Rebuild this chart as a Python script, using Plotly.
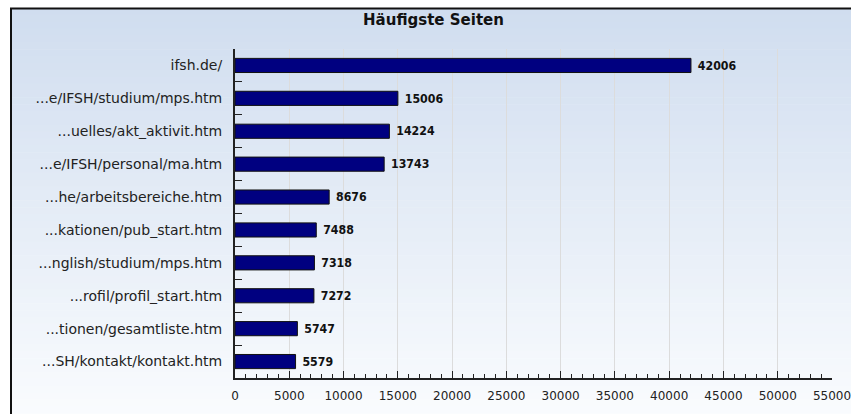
import plotly.graph_objects as go

# ---- data ----
pages = [
    "ifsh.de/",
    "...e/IFSH/studium/mps.htm",
    "...uelles/akt_aktivit.htm",
    "...e/IFSH/personal/ma.htm",
    "...he/arbeitsbereiche.htm",
    "...kationen/pub_start.htm",
    "...nglish/studium/mps.htm",
    "...rofil/profil_start.htm",
    "...tionen/gesamtliste.htm",
    "...SH/kontakt/kontakt.htm",
]
hits = [42006, 15006, 14224, 13743, 8676, 7488, 7318, 7272, 5747, 5579]
title_text = "Häufigste Seiten"
x_max = 55000

# ---- layout geometry (pixels) ----
W, H = 851, 414
L, R, T, B = 235, 19, 49, 36
pw, ph = W - L - R, H - T - B


def px_x(p):
    return (p - L) / pw


def px_y(p):
    return (H - B - p) / ph


fig = go.Figure()
fig.add_trace(go.Bar(
    y=pages, x=hits, orientation="h",
    marker=dict(color="#000080", line=dict(color="#111111", width=1)),
    text=[f" {v}" for v in hits],
    textposition="outside",
    textfont=dict(family="DejaVu Sans Condensed", size=13, color="#111111", weight="bold"),
    cliponaxis=False,
    hoverinfo="skip",
))

# background gradient strips
shapes = []
top_c = (208, 221, 239)
bot_c = (250, 252, 254)
n = 60
y0p, y1p = 8, 420
for i in range(n):
    a = y0p + (y1p - y0p) * i / n
    b = y0p + (y1p - y0p) * (i + 1) / n + 0.6
    t = i / (n - 1)
    c = tuple(round(top_c[k] + (bot_c[k] - top_c[k]) * t) for k in range(3))
    shapes.append(dict(
        type="rect", xref="paper", yref="paper", layer="below",
        x0=px_x(11), x1=px_x(870), y0=px_y(b), y1=px_y(a),
        line=dict(width=0), fillcolor=f"rgb{c}",
    ))
# frame
shapes.append(dict(
    type="rect", xref="paper", yref="paper", layer="above",
    x0=px_x(11), x1=px_x(870), y0=px_y(430), y1=px_y(8.5),
    line=dict(width=2, color="#111111"), fillcolor="rgba(0,0,0,0)",
))

fig.update_layout(
    width=W, height=H,
    margin=dict(l=L, r=R, t=T, b=B, autoexpand=False),
    paper_bgcolor="white",
    plot_bgcolor="rgba(0,0,0,0)",
    showlegend=False,
    bargap=0.57,
    shapes=shapes,
    title=dict(
        text=title_text, x=433.5 / W, xanchor="center", xref="container",
        y=1 - 20 / H, yanchor="middle", yref="container",
        font=dict(family="DejaVu Sans", size=15, color="#111111", weight="bold"),
    ),
    xaxis=dict(
        range=[0, x_max], tick0=0, dtick=5000, tickformat="d",
        showgrid=True, gridcolor="#dcdcdc", gridwidth=1,
        zeroline=False,
        showline=True, linecolor="#222222", linewidth=2,
        ticks="inside", ticklen=7, tickwidth=1, tickcolor="#222222",
        minor=dict(dtick=1000, ticks="inside", ticklen=4, tickwidth=1, tickcolor="#222222", showgrid=False),
        tickfont=dict(family="DejaVu Sans", size=12, color="#222222"),
        ticklabelstandoff=6,
        ticklabeloverflow="allow",
        fixedrange=True,
    ),
    yaxis=dict(
        autorange="reversed",
        showgrid=False, zeroline=False,
        showline=True, linecolor="#222222", linewidth=2,
        ticks="inside", tickson="boundaries", ticklen=7, tickwidth=1, tickcolor="#222222",
        tickfont=dict(family="DejaVu Sans", size=14, color="#222222"),
        ticklabelstandoff=8,
        fixedrange=True,
    ),
)

fig.write_html("out.html", config={"displayModeBar": False},
               post_script="document.body.style.margin='0';")
